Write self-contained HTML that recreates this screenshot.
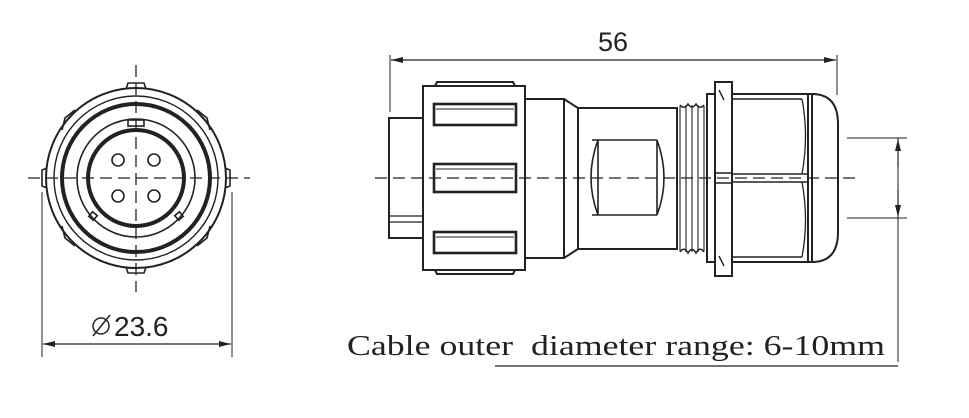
<!DOCTYPE html>
<html><head><style>html,body{margin:0;padding:0;background:#fff}</style></head><body>
<svg width="969" height="413" viewBox="0 0 969 413" xmlns="http://www.w3.org/2000/svg">
<defs>
<marker id="a" viewBox="0 0 12 6" refX="12" refY="3" markerWidth="12" markerHeight="6" orient="auto-start-reverse" markerUnits="userSpaceOnUse"><path d="M0,0 L12,3 L0,6 z" fill="#222"/></marker>
</defs>
<g fill="none" stroke="#222">
<!-- LEFT VIEW -->
<g stroke-width="1.6">
<circle cx="136" cy="178" r="90" stroke-width="2"/>
<circle cx="136" cy="178" r="82" stroke-width="1.4"/>
<circle cx="136" cy="178" r="74" stroke-width="4"/>
<circle cx="136" cy="178" r="59" stroke-width="1.6"/>
<circle cx="136" cy="178" r="48" stroke-width="4"/>
<circle cx="118" cy="160" r="6"/><circle cx="154" cy="160" r="6"/>
<circle cx="118" cy="196" r="6"/><circle cx="154" cy="196" r="6"/>
<path d="M126,89 L128,83 L144,83 L146,89"/>
<path d="M126,267 L128,273 L144,273 L146,267"/>
<path d="M47,168 L42,170 L42,186 L47,188"/>
<path d="M225,168 L230,170 L230,186 L225,188"/>
<path d="M62,130 L65,118 L75,110"/><path d="M210,130 L207,118 L197,110"/>
<path d="M62,226 L65,238 L75,246"/><path d="M210,226 L207,238 L197,246"/>
<rect x="128" y="120" width="16" height="6"/>
<rect x="90" y="213" width="6" height="6" transform="rotate(40 93 216)"/>
<rect x="176" y="213" width="6" height="6" transform="rotate(-40 179 216)"/>
</g>
<path d="M28,178 H250" stroke-width="1.3" stroke-dasharray="12,6"/>
<path d="M136,65 V292" stroke-width="1.3" stroke-dasharray="12,6"/>
<path d="M42,192 V357 M232,192 V357" stroke-width="1"/>
<path d="M43,344 H231" stroke-width="1.2" marker-start="url(#a)" marker-end="url(#a)"/>
<circle cx="101" cy="326" r="8" stroke-width="1.5"/>
<path d="M93,336 L110,315" stroke-width="1.5"/>

<!-- RIGHT VIEW -->
<path d="M390,55 V112 M837,55 V95" stroke-width="1"/>
<path d="M391,60 H836" stroke-width="1.2" marker-start="url(#a)" marker-end="url(#a)"/>
<g stroke-width="2">
<rect x="389" y="118" width="34" height="120"/>
<path d="M389,216 H423 M389,222 H423" stroke-width="1.3"/>
<rect x="423" y="86" width="102" height="184"/>
<path d="M435,86 L437,82 H513 L515,86 M435,270 L437,274 H513 L515,270"/>
<rect x="434" y="104" width="82" height="21" stroke-width="2.6"/>
<path d="M436,109 H514" stroke-width="1"/>
<rect x="434" y="164" width="82" height="28" stroke-width="2.6"/>
<path d="M436,169 H514" stroke-width="1"/>
<rect x="434" y="232" width="82" height="21" stroke-width="2.6"/>
<path d="M436,237 H514" stroke-width="1"/>
<path d="M525,99 H564 L578,108 V249 L564,258 H525 M564,99 V258"/>
<rect x="578" y="108" width="99" height="141"/>
<path d="M592,140 H657 M592,215 H657 M598,140 Q584,178 598,215 M657,140 Q671,178 657,215 M598,140 V215 M657,140 V215" stroke-width="1.6"/>
<path d="M677,108 V249" />
<path d="M680,105 Q684,110 688,104 Q692,110 696,104 Q700,110 704,105 M680,252 Q684,246 688,253 Q692,246 696,253 Q700,246 704,252" stroke-width="1.5"/>
<path d="M680,106 V251 M686,105 V252 M692,105 V252 M698,105 V252 M704,106 V251" stroke-width="1.1"/>
<rect x="707" y="94" width="8" height="168"/>
<rect x="715" y="82" width="17" height="194"/>
<path d="M719,90 L724,100 M719,256 L724,266 M715,173 H732 M715,183 H732" stroke-width="1.4"/>
<rect x="732" y="94" width="76" height="168"/>
<path d="M732,99 H802 M732,257 H802 M732,174 H808 M732,182 H808" stroke-width="1.4"/>
<path d="M802,99 Q809,136 802,174 M802,182 Q809,220 802,257" stroke-width="1.3"/>
<path d="M808,94 H812 Q838,94 838,124 V232 Q838,262 812,262 H808 M812,94 V262"/>
</g>
<path d="M375,178 H860" stroke-width="1.3" stroke-dasharray="12,6"/>
<path d="M847,138 H907 M847,218 H907" stroke-width="1"/>
<path d="M898,138 V362" stroke-width="1"/>
<path d="M898,166 V139" stroke-width="1.2" marker-end="url(#a)"/>
<path d="M898,190 V217" stroke-width="1.2" marker-end="url(#a)"/>
<path d="M495,366 H898" stroke-width="1.2"/>
</g>
<g fill="#222">
<text x="114" y="336" font-family="Liberation Sans, sans-serif" font-size="28">23.6</text>
<text x="613" y="51" font-family="Liberation Sans, sans-serif" font-size="27" text-anchor="middle">56</text>
<text x="347" y="355" font-family="Liberation Serif, serif" font-size="28" textLength="538" lengthAdjust="spacingAndGlyphs" xml:space="preserve">Cable outer  diameter range: 6-10mm</text>
</g>
</svg>
</body></html>
